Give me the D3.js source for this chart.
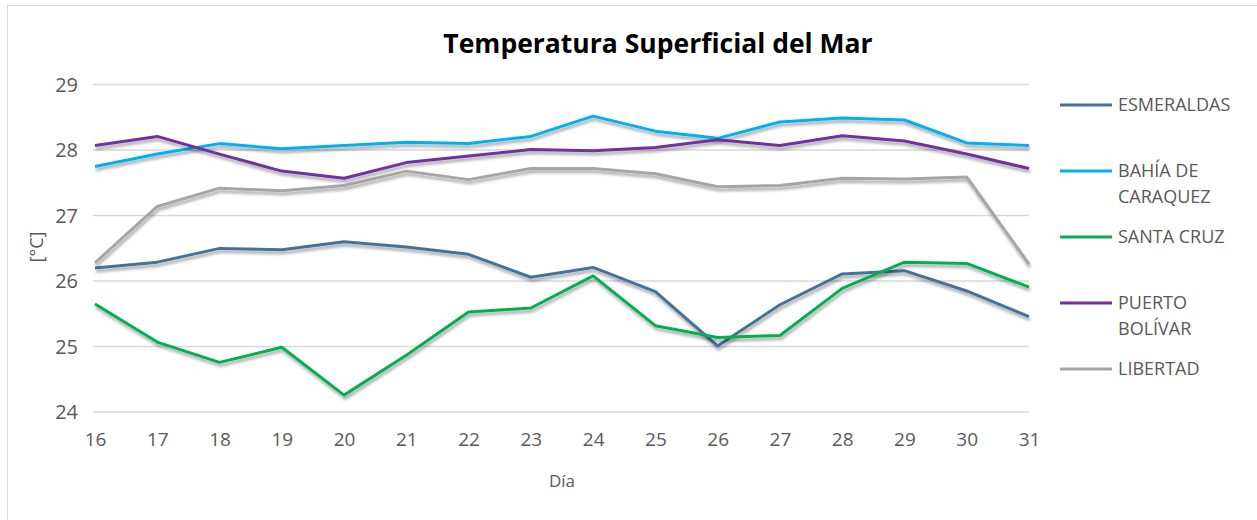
<!DOCTYPE html>
<html><head><meta charset="utf-8">
<script src="https://cdn.jsdelivr.net/npm/d3@7"></script>
<style>body{margin:0;background:#fff}svg{display:block}</style>
</head><body><svg id="c" width="1257" height="520"></svg>
<script>
const days = [16,17,18,19,20,21,22,23,24,25,26,27,28,29,30,31];
const yTicks = [24,25,26,27,28,29];
const esmeraldas = [26.19,26.28,26.49,26.47,26.59,26.51,26.40,26.05,26.20,25.83,25.00,25.63,26.10,26.15,25.84,25.45];
const bahia = [27.74,27.93,28.09,28.01,28.06,28.11,28.09,28.20,28.51,28.28,28.17,28.42,28.48,28.45,28.10,28.06];
const santaCruz = [25.64,25.06,24.75,24.98,24.25,24.86,25.52,25.58,26.07,25.31,25.13,25.16,25.88,26.28,26.26,25.90];
const puertoBolivar = [28.06,28.20,27.93,27.67,27.56,27.80,27.90,28.00,27.98,28.03,28.15,28.06,28.21,28.13,27.93,27.71];
const libertad = [26.27,27.13,27.41,27.37,27.45,27.67,27.54,27.71,27.71,27.63,27.43,27.45,27.56,27.55,27.58,26.25];
const referenceLevel = [28,28];
const seriesNames = [["ESMERALDAS"],["BAHÍA DE","CARAQUEZ"],["SANTA CRUZ"],["PUERTO","BOLÍVAR"],["LIBERTAD"]];
const seriesColors = ["#44729d","#00b0f0","#00b050","#7030a0","#a5a5a5"];
const seriesData = [esmeraldas,bahia,santaCruz,puertoBolivar,libertad];

const FONT = "Open Sans, sans-serif";
const svg = d3.select("#c");
svg.append("rect").attr("x",7.5).attr("y",5.5).attr("width",1300).attr("height",600)
  .attr("fill","#fff").attr("stroke","#d9d9d9");

const defs = svg.append("defs");
const f = defs.append("filter").attr("id","sh").attr("x","-5%").attr("y","-20%").attr("width","110%").attr("height","140%");
f.append("feDropShadow").attr("dx",1).attr("dy",3).attr("stdDeviation",1.6).attr("flood-color","#000").attr("flood-opacity",0.35);

const x = d3.scaleLinear().domain([16,31]).range([95,1029]);
const y = d3.scaleLinear().domain([24,29]).range([411.5,84]);

const yAxis = d3.axisLeft(y).tickValues(yTicks).tickSize(-(1029-93)).tickPadding(15).tickFormat(d3.format("d"));
const gy = svg.append("g").attr("transform","translate(93,0)").call(yAxis);
gy.select(".domain").remove();
gy.selectAll(".tick line").attr("stroke","#d9d9d9").attr("stroke-width",1.5);
gy.selectAll(".tick text").attr("fill","#595959").attr("font-family",FONT).attr("font-size",20).attr("dy","0.35em");

// faint reference level at 28
svg.append("path").datum(referenceLevel)
  .attr("d",d3.line().x((d,i)=>x(i===0?days[0]:days[days.length-1])).y(d=>y(d)))
  .attr("stroke","#cfcfcf").attr("stroke-width",2).attr("fill","none").attr("filter","url(#sh)");

const xAxis = d3.axisBottom(x).tickValues(days).tickSize(0).tickPadding(0).tickFormat(d3.format("d"));
const gx = svg.append("g").attr("transform","translate(0,432)").call(xAxis);
gx.select(".domain").remove();
gx.selectAll(".tick text").attr("fill","#595959").attr("font-family",FONT).attr("font-size",19).attr("dy","0.71em").attr("y",0);

const line = d3.line().x((d,i)=>x(days[i])).y(d=>y(d));
seriesData.forEach((s,k)=>{
  svg.append("path").datum(s).attr("d",line).attr("fill","none")
    .attr("stroke",seriesColors[k]).attr("stroke-width",3).attr("stroke-linejoin","round")
    .attr("filter","url(#sh)");
});

svg.append("text").attr("x",658).attr("y",53).attr("text-anchor","middle")
  .attr("font-family",FONT).attr("font-weight","bold").attr("font-size",26.5)
  .attr("fill","#000").text("Temperatura Superficial del Mar");

svg.append("text").attr("x",562).attr("y",487).attr("text-anchor","middle")
  .attr("font-family",FONT).attr("font-size",17).attr("fill","#595959").text("Día");

svg.append("text").attr("transform","translate(43,247) rotate(-90)").attr("text-anchor","middle")
  .attr("font-family",FONT).attr("font-size",18).attr("fill","#595959").text("[°C]");

const legY = [105,171,237,303,369];
const leg = svg.append("g");
seriesNames.forEach((n,k)=>{
  leg.append("line").attr("x1",1060).attr("x2",1112).attr("y1",legY[k]).attr("y2",legY[k])
    .attr("stroke",seriesColors[k]).attr("stroke-width",3);
  n.forEach((t,j)=>{
    leg.append("text").attr("x",1118).attr("y",legY[k]+j*26).attr("dy","0.35em")
      .attr("font-family",FONT).attr("font-size",18).attr("fill","#595959").text(t);
  });
});
</script></body></html>
